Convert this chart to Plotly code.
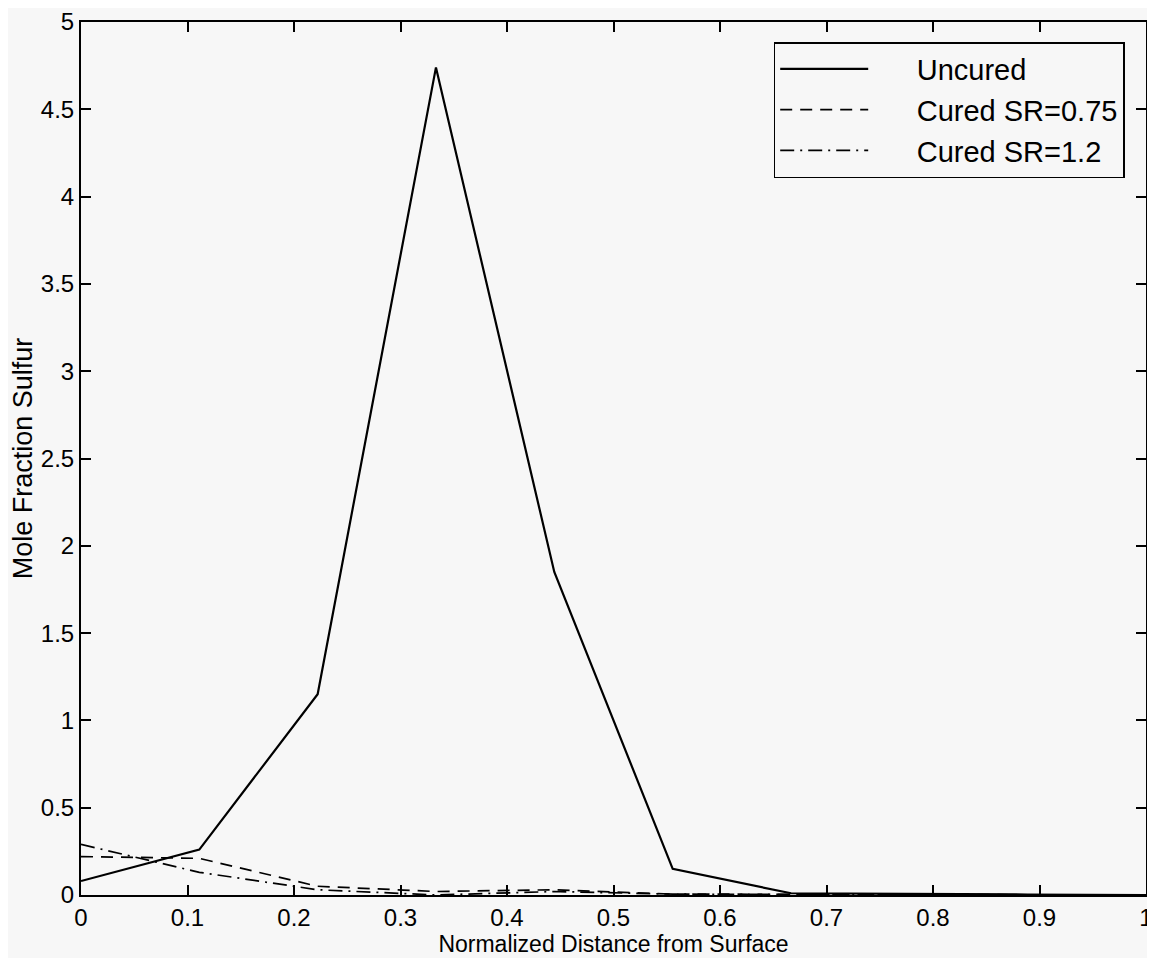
import plotly.graph_objects as go

x_vals = [0.0, 0.1111, 0.2222, 0.3333, 0.4444, 0.5556, 0.6667, 0.7778, 0.8889, 1.0]
uncured = [0.08, 0.26, 1.15, 4.74, 1.85, 0.15, 0.01, 0.005, 0.003, 0.0]
cured_075 = [0.22, 0.21, 0.05, 0.02, 0.03, 0.005, 0.004, 0.003, 0.002, 0.0]
cured_12 = [0.29, 0.13, 0.03, 0.0, 0.02, 0.005, 0.003, 0.002, 0.001, 0.0]
names = ["Uncured", "Cured SR=0.75", "Cured SR=1.2"]

x_tickvals = [0, 0.1, 0.2, 0.3, 0.4, 0.5, 0.6, 0.7, 0.8, 0.9, 1]
x_ticktext = ["0", "0.1", "0.2", "0.3", "0.4", "0.5", "0.6", "0.7", "0.8", "0.9", "1"]
y_tickvals = [0, 0.5, 1, 1.5, 2, 2.5, 3, 3.5, 4, 4.5, 5]
y_ticktext = ["0", "0.5", "1", "1.5", "2", "2.5", "3", "3.5", "4", "4.5", "5"]

FONT = "Liberation Sans, Arial, Helvetica, sans-serif"
pad = "\u2002\u2002\u2002"

fig = go.Figure()
fig.add_trace(go.Scatter(x=x_vals, y=uncured, mode="lines", name=pad + names[0],
                         line=dict(color="black", width=2.2, dash="solid")))
fig.add_trace(go.Scatter(x=x_vals, y=cured_075, mode="lines", name=pad + names[1],
                         line=dict(color="black", width=1.7, dash="12px,8px")))
fig.add_trace(go.Scatter(x=x_vals, y=cured_12, mode="lines", name=pad + names[2],
                         line=dict(color="black", width=1.7, dash="14px,6px,2px,6px")))

axis_common = dict(showgrid=False, zeroline=False, showline=True, linecolor="black",
                   linewidth=2, mirror="ticks", ticks="inside", ticklen=10,
                   tickcolor="black", tickwidth=1.5, tickmode="array",
                   ticklabeloverflow="allow",
                   tickfont=dict(family=FONT, size=24, color="black"))

fig.update_xaxes(range=[0, 1], tickvals=x_tickvals, ticktext=x_ticktext,
                 title=dict(text="Normalized Distance from Surface", standoff=6,
                            font=dict(family=FONT, size=23, color="black")),
                 **axis_common)
fig.update_yaxes(range=[0, 5], tickvals=y_tickvals, ticktext=y_ticktext,
                 title=dict(text="Mole Fraction Sulfur", standoff=6,
                            font=dict(family=FONT, size=27, color="black")),
                 **axis_common)

fig.update_layout(
    width=1147, height=950,
    margin=dict(l=73, r=9, t=14, b=63, autoexpand=False),
    paper_bgcolor="#f7f7f7", plot_bgcolor="#f7f7f7",
    font=dict(family=FONT, color="black"),
    legend=dict(x=0.98, y=0.977, xanchor="right", yanchor="top",
                bgcolor="#f7f7f7", bordercolor="black", borderwidth=1.5,
                font=dict(family=FONT, size=29, color="black"), itemwidth=88,
                tracegroupgap=0),
    showlegend=True,
)

fig.write_html("out.html")
